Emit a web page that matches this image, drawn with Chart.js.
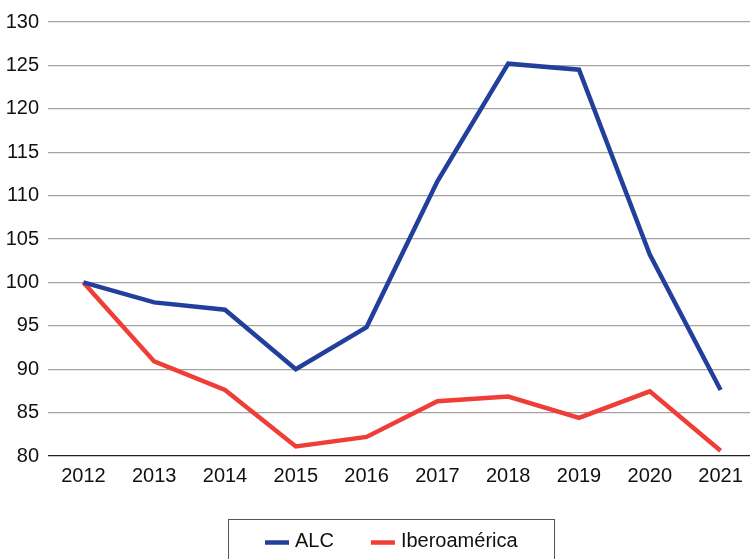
<!DOCTYPE html>
<html>
<head>
<meta charset="utf-8">
<script src="https://cdn.jsdelivr.net/npm/chart.js@4/dist/chart.umd.min.js"></script>
<style>
  html, body { margin: 0; padding: 0; background: #fff; overflow: hidden; }
  #wrap { width: 756px; height: 559px; }
</style>
</head>
<body>
<div id="wrap"><canvas id="indexChart"></canvas></div>
<script>
const years = ['2012', '2013', '2014', '2015', '2016', '2017', '2018', '2019', '2020', '2021'];
const alcValues = [100, 97.7, 96.85, 90.0, 94.85, 111.65, 125.2, 124.5, 103.2, 87.6];
const iberoValues = [100, 90.9, 87.6, 81.1, 82.2, 86.3, 86.85, 84.4, 87.45, 80.6];
const seriesNames = ['ALC', 'Iberoamérica'];
const seriesColors = ['#22409b', '#ef3e37'];

const FONT = '"Liberation Sans", Arial, sans-serif';

// boxed legend drawn under the axis
const boxLegend = {
  id: 'boxLegend',
  afterDraw(chart) {
    const ctx = chart.ctx;
    ctx.save();
    ctx.strokeStyle = '#555';
    ctx.lineWidth = 1;
    ctx.strokeRect(228.5, 519.5, 326, 60);

    ctx.font = '20px ' + FONT;
    ctx.textBaseline = 'alphabetic';
    let x = 265;
    chart.data.datasets.forEach(ds => {
      ctx.strokeStyle = ds.borderColor;
      ctx.lineWidth = 4.5;
      ctx.lineCap = 'butt';
      ctx.beginPath();
      ctx.moveTo(x, 542.5);
      ctx.lineTo(x + 24, 542.5);
      ctx.stroke();
      ctx.fillStyle = '#111';
      ctx.fillText(ds.label, x + 30, 547);
      x += 30 + ctx.measureText(ds.label).width + 37;
    });
    ctx.restore();
  }
};

new Chart(document.getElementById('indexChart'), {
  type: 'line',
  data: {
    labels: years,
    datasets: [
      { label: seriesNames[0], data: alcValues, borderColor: seriesColors[0] },
      { label: seriesNames[1], data: iberoValues, borderColor: seriesColors[1] }
    ]
  },
  options: {
    responsive: true,
    maintainAspectRatio: false,
    animation: false,
    devicePixelRatio: 1,
    layout: { padding: { top: 22, right: 0, left: 0, bottom: 0 } },
    elements: {
      line: { borderWidth: 4.5, tension: 0, borderJoinStyle: 'miter', fill: false },
      point: { radius: 0 }
    },
    plugins: {
      legend: { display: false },
      tooltip: { enabled: false }
    },
    scales: {
      x: {
        offset: true,
        grid: { display: false, drawTicks: false },
        border: { display: false },
        ticks: { color: '#111', font: { family: FONT, size: 20 }, padding: 8, maxRotation: 0 },
        afterFit(scale) { scale.height = 103; }
      },
      y: {
        min: 80,
        max: 130,
        grid: {
          drawTicks: false,
          lineWidth: 1.3,
          color: c => (c.tick && c.tick.value === 80 ? '#222' : '#a3a3a3')
        },
        border: { display: false },
        ticks: { stepSize: 5, color: '#111', font: { family: FONT, size: 20 }, padding: 9 },
        afterFit(scale) { scale.width = 48; }
      }
    }
  },
  plugins: [boxLegend]
});
</script>
</body>
</html>
